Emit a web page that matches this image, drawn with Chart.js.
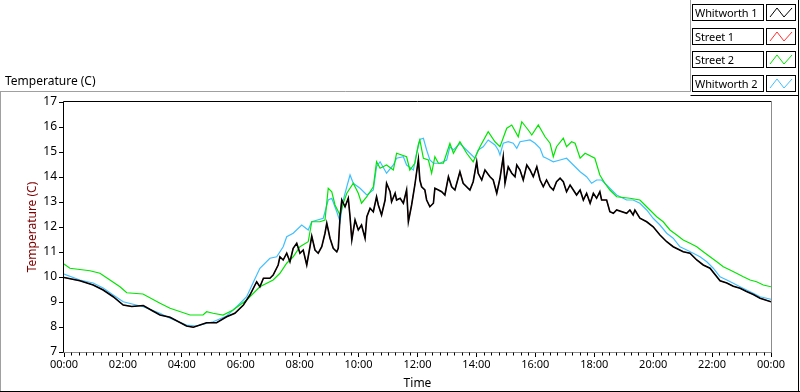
<!DOCTYPE html>
<html lang="en">
<head>
  <meta charset="UTF-8" />
  <title>Temperature (C)</title>
  <script src="https://cdn.jsdelivr.net/npm/chart.js"></script>
  <style>
    body {
      margin: 0;
      background: #fff;
      font-family: "Noto Sans", sans-serif;
      font-size: 11px;
    }
    #wrap {
      position: relative;
      width: 800px;
      height: 392px;
      overflow: hidden;
    }
    #chart {
      position: absolute;
      left: 0;
      top: 0;
    }
    #title {
      position: absolute;
      left: 5px;
      top: 72px;
      font-size: 12px;
      color: #000;
    }
    .row {
      position: absolute;
      left: 692px;
      height: 16px;
    }
    .name {
      position: absolute;
      left: 0;
      top: 0;
      width: 68px;
      height: 15px;
      border: 1px solid #000;
      line-height: 15px;
      padding-left: 2px;
      font-size: 11px;
      letter-spacing: -0.1px;
      white-space: nowrap;
      overflow: hidden;
      box-sizing: content-box;
    }
    .swatch {
      position: absolute;
      left: 74px;
      top: 0;
      width: 28px;
      height: 15px;
      border: 1px solid #000;
      background: #fff;
    }
  </style>
</head>
<body>
  <div id="wrap">
    <canvas id="chart" width="800" height="392"></canvas>
    <div id="title">Temperature (C)</div>
    <div id="legend"></div>
  </div>

  <script>
    // hours since midnight, readings in deg C
    const w1Time = [0.00,0.54,0.99,1.33,1.67,2.01,2.30,2.69,3.00,3.26,3.60,4.16,4.39,4.84,5.18,5.52,5.80,6.09,6.31,6.54,6.65,6.77,6.99,7.10,7.27,7.33,7.44,7.56,7.67,7.78,7.90,8.01,8.12,8.24,8.35,8.41,8.52,8.63,8.75,8.86,8.92,8.97,9.03,9.14,9.26,9.31,9.37,9.43,9.54,9.65,9.71,9.77,9.88,9.99,10.10,10.22,10.28,10.39,10.50,10.61,10.67,10.78,10.90,10.95,11.07,11.12,11.24,11.29,11.41,11.52,11.63,11.69,11.80,11.91,12.03,12.08,12.14,12.25,12.31,12.42,12.54,12.59,12.71,12.82,12.93,13.05,13.16,13.27,13.44,13.55,13.78,13.89,14.01,14.06,14.18,14.29,14.46,14.57,14.69,14.80,14.91,14.97,15.08,15.20,15.31,15.37,15.48,15.59,15.71,15.82,15.93,16.05,16.16,16.27,16.38,16.50,16.61,16.72,16.84,16.95,17.06,17.18,17.29,17.40,17.52,17.63,17.74,17.86,17.97,18.08,18.19,18.25,18.42,18.53,18.65,18.76,19.10,19.21,19.32,19.38,19.55,19.78,20.00,20.23,20.46,20.68,21.02,21.25,21.48,21.70,21.93,22.27,22.50,22.72,22.95,23.17,23.40,23.63,24.00];
    const whitworth1 = [9.98,9.85,9.68,9.48,9.21,8.88,8.82,8.86,8.65,8.48,8.39,8.04,7.99,8.17,8.17,8.41,8.55,8.88,9.28,9.81,9.61,9.95,9.95,10.08,10.48,10.81,10.68,10.95,10.61,11.15,11.35,10.95,11.08,10.48,11.21,11.64,11.08,10.95,11.21,11.75,12.15,11.88,11.55,11.15,11.01,11.15,12.41,13.08,12.81,13.15,12.41,11.48,12.28,11.88,12.08,11.55,12.41,12.75,12.61,13.21,12.88,12.48,13.08,13.75,13.41,13.01,13.35,13.08,13.15,12.95,13.48,12.21,12.88,13.68,14.70,13.88,13.61,13.48,13.08,12.81,12.95,13.55,13.48,13.41,13.28,14.01,13.61,13.48,14.21,13.75,13.48,13.81,14.61,14.15,13.88,14.28,14.01,13.88,13.35,13.95,14.81,13.75,14.41,14.15,14.01,14.48,14.28,13.88,14.48,14.28,14.01,14.41,13.88,13.61,13.88,13.61,13.48,13.81,13.95,13.81,13.41,13.68,13.48,13.28,13.48,13.08,13.35,12.95,13.35,13.15,13.41,13.08,13.08,12.61,12.55,12.68,12.55,12.68,12.48,12.68,12.35,12.21,12.01,11.68,11.41,11.21,11.01,10.95,10.68,10.48,10.35,9.85,9.76,9.63,9.55,9.42,9.30,9.15,9.01];

    // Street 1 is not visible in the picture: it sits under Whitworth 1
    const s1Time = w1Time.slice();
    const street1 = whitworth1.slice();

    const s2Time = [0.00,0.20,0.88,1.22,1.56,1.90,2.13,2.68,3.26,3.60,4.28,4.72,4.84,5.06,5.40,5.74,6.20,6.65,7.10,7.33,7.56,7.78,8.01,8.29,8.35,8.41,8.69,8.86,8.97,9.09,9.20,9.37,9.48,9.60,9.82,9.99,10.10,10.28,10.50,10.61,10.73,10.95,11.18,11.29,11.63,11.74,11.91,12.03,12.08,12.20,12.37,12.48,12.59,12.71,12.88,12.99,13.10,13.22,13.44,13.67,13.89,14.12,14.40,14.63,14.80,15.03,15.20,15.42,15.54,15.76,15.88,16.10,16.33,16.50,16.61,16.72,16.95,17.06,17.23,17.35,17.52,17.69,18.02,18.19,18.36,18.53,18.76,19.21,19.55,19.66,19.89,20.12,20.34,20.57,20.80,21.02,21.25,21.48,21.70,21.93,22.16,22.38,22.61,22.83,23.06,23.29,23.51,23.74,24.00];
    const street2 = [10.52,10.35,10.25,10.15,9.88,9.61,9.37,9.32,8.95,8.75,8.48,8.48,8.61,8.55,8.48,8.68,9.08,9.61,9.88,10.15,10.55,10.81,11.21,11.41,11.81,12.21,12.21,12.28,13.55,13.41,12.88,12.48,12.95,13.35,13.75,13.35,12.95,13.21,13.61,14.61,14.35,14.48,14.28,14.95,14.81,14.28,14.55,15.30,15.48,14.75,14.68,14.15,14.81,14.55,14.55,14.95,15.35,14.95,15.41,14.95,14.61,15.21,15.81,15.41,15.21,15.95,16.08,15.61,16.21,15.88,15.68,16.08,15.61,15.35,14.81,15.21,15.55,15.21,15.41,15.35,14.75,14.95,14.75,14.08,13.75,13.48,13.21,13.15,13.08,12.95,12.68,12.41,12.21,11.88,11.68,11.48,11.35,11.21,11.01,10.81,10.61,10.41,10.28,10.15,10.01,9.88,9.81,9.68,9.61];

    const w2Time = [0.00,0.54,0.99,1.33,1.67,2.01,2.69,3.26,3.60,4.16,4.50,5.06,5.52,5.86,6.20,6.45,6.65,6.99,7.22,7.44,7.56,7.78,8.07,8.29,8.41,8.80,8.97,9.09,9.26,9.37,9.48,9.60,9.71,9.82,10.05,10.28,10.50,10.61,10.73,10.95,11.18,11.29,11.52,11.63,11.86,11.97,12.08,12.20,12.31,12.42,12.54,12.76,12.99,13.10,13.22,13.44,13.55,13.78,13.95,14.06,14.23,14.40,14.63,14.74,14.80,14.91,15.08,15.25,15.37,15.48,15.82,15.99,16.16,16.27,16.38,16.61,16.84,17.06,17.29,17.52,17.74,17.91,18.08,18.25,18.42,18.59,18.76,19.10,19.32,19.55,19.78,20.00,20.23,20.46,20.68,20.91,21.14,21.36,21.59,21.82,22.04,22.27,22.50,22.72,22.95,23.17,23.40,23.63,24.00];
    const whitworth2 = [10.12,9.88,9.76,9.56,9.28,9.01,8.81,8.55,8.35,8.08,8.04,8.21,8.44,8.81,9.21,9.85,10.35,10.75,10.81,11.21,11.61,11.75,12.08,11.88,12.21,12.35,13.08,13.15,12.61,12.21,13.08,13.61,14.08,13.75,13.55,13.28,13.48,14.41,14.61,14.15,14.48,14.75,14.81,14.48,14.28,14.95,15.50,15.55,15.08,14.68,14.55,14.55,14.68,15.21,15.08,15.35,15.21,14.95,14.75,15.08,15.21,15.48,15.28,15.08,14.88,15.35,15.41,15.35,15.15,15.41,15.48,15.35,15.15,14.81,14.75,14.61,14.68,14.75,14.48,14.21,14.01,13.75,13.88,13.88,13.68,13.48,13.28,13.08,13.08,12.95,12.68,12.35,12.08,11.75,11.55,11.21,11.08,10.95,10.81,10.61,10.35,10.01,9.88,9.75,9.61,9.48,9.35,9.21,9.11];

    const yTicks = [7, 8, 9, 10, 11, 12, 13, 14, 15, 16, 17];
    const xTickHours = [0, 2, 4, 6, 8, 10, 12, 14, 16, 18, 20, 22, 24];

    const seriesNames = ["Whitworth 1", "Street 1", "Street 2", "Whitworth 2"];
    const seriesColors = ["#000000", "#ff3030", "#00e600", "#40bfff"];

    function pairs(t, v) {
      return t.map((h, i) => ({ x: h, y: v[i] }));
    }

    function hourLabel(h) {
      const hh = Math.round(h) % 24;
      return (hh < 10 ? "0" : "") + hh + ":00";
    }

    // legend boxes, html
    const legend = document.getElementById("legend");
    seriesNames.forEach((name, i) => {
      const row = document.createElement("div");
      row.className = "row";
      row.style.top = (4 + i * 23.5) + "px";
      row.innerHTML =
        '<div class="name">' + name + '</div>' +
        '<div class="swatch"><svg width="28" height="15">' +
        '<polyline points="3,12 10,3 17,12 25,3" fill="none" stroke="' +
        seriesColors[i] + '" stroke-width="1"/></svg></div>';
      legend.appendChild(row);
    });

    // frames and minor ticks, LabVIEW look
    const framePlugin = {
      id: "frames",
      afterDraw(chart) {
        const { ctx, chartArea: a, scales } = chart;
        ctx.save();
        ctx.lineWidth = 1;
        // outer panel
        ctx.strokeStyle = "#a0a0a0";
        ctx.beginPath();
        ctx.moveTo(0, 91.5); ctx.lineTo(690.5, 91.5);
        ctx.moveTo(690.5, 0); ctx.lineTo(690.5, 91.5);
        ctx.moveTo(0.5, 91.5); ctx.lineTo(0.5, 391);
        ctx.stroke();
        ctx.strokeStyle = "#000";
        ctx.beginPath();
        ctx.moveTo(690.5, 95.5); ctx.lineTo(798.5, 95.5);
        ctx.moveTo(798.5, 0); ctx.lineTo(798.5, 391.5);
        ctx.moveTo(0, 391.5); ctx.lineTo(800, 391.5);
        ctx.stroke();
        // plot frame
        const l = Math.round(a.left) - 0.5, r = Math.round(a.right) + 0.5;
        const t = Math.round(a.top) - 0.5, b = Math.round(a.bottom) + 0.5;
        ctx.strokeStyle = "#000";
        ctx.beginPath();
        ctx.moveTo(l, b); ctx.lineTo(l, t); ctx.lineTo(r, t);
        ctx.stroke();
        ctx.strokeStyle = "#8c8c8c";
        ctx.beginPath();
        ctx.moveTo(r, t); ctx.lineTo(r, b); ctx.lineTo(l, b);
        ctx.stroke();
        // minor x ticks every 15 min
        const xs = scales.x;
        ctx.strokeStyle = "#000";
        ctx.beginPath();
        for (let q = 0; q <= 96; q++) {
          if (q % 8 === 0) continue;
          const px = Math.round(xs.getPixelForValue(q / 4)) + 0.5;
          ctx.moveTo(px, b); ctx.lineTo(px, b + 3);
        }
        ctx.stroke();
        ctx.restore();
      }
    };

    const ctx = document.getElementById("chart").getContext("2d");
    new Chart(ctx, {
      type: "line",
      data: {
        datasets: [
          { label: seriesNames[0], data: pairs(w1Time, whitworth1), borderColor: seriesColors[0], borderWidth: 1.6, order: 0 },
          { label: seriesNames[1], data: pairs(s1Time, street1), borderColor: seriesColors[1], borderWidth: 0.8, order: 3 },
          { label: seriesNames[2], data: pairs(s2Time, street2), borderColor: seriesColors[2], borderWidth: 1.2, order: 1 },
          { label: seriesNames[3], data: pairs(w2Time, whitworth2), borderColor: seriesColors[3], borderWidth: 1.2, order: 2 }
        ]
      },
      options: {
        responsive: false,
        animation: false,
        events: [],
        elements: {
          line: { borderWidth: 1, tension: 0 },
          point: { radius: 0 }
        },
        layout: { padding: { top: 102, right: 29, bottom: 0, left: 0 } },
        scales: {
          x: {
            type: "linear",
            min: 0,
            max: 24,
            afterBuildTicks(scale) {
              scale.ticks = xTickHours.map(v => ({ value: v }));
            },
            afterFit(scale) { scale.height = 40; },
            grid: { drawOnChartArea: false, drawTicks: true, tickLength: 5, color: "#000" },
            border: { display: false },
            ticks: {
              padding: 1,
              maxRotation: 0,
              autoSkip: false,
              color: "#000",
              font: { family: "Noto Sans", size: 11 },
              callback: v => hourLabel(v)
            },
            title: {
              display: true,
              text: "Time",
              color: "#000",
              padding: { top: 0, bottom: 1 },
              font: { family: "Noto Sans", size: 12 }
            }
          },
          y: {
            min: 7,
            max: 17,
            afterBuildTicks(scale) {
              scale.ticks = yTicks.map(v => ({ value: v }));
            },
            afterFit(scale) { scale.width = 64; },
            grid: { drawOnChartArea: false, drawTicks: true, tickLength: 5, color: "#000" },
            border: { display: false },
            ticks: {
              padding: 2,
              color: "#000",
              font: { family: "Noto Sans", size: 12 }
            },
            title: {
              display: true,
              text: "Temperature (C)",
              color: "#800000",
              padding: { top: 25, bottom: 0 },
              font: { family: "Noto Sans", size: 12 }
            }
          }
        },
        plugins: {
          legend: { display: false },
          tooltip: { enabled: false }
        }
      },
      plugins: [framePlugin]
    });
  </script>
</body>
</html>
